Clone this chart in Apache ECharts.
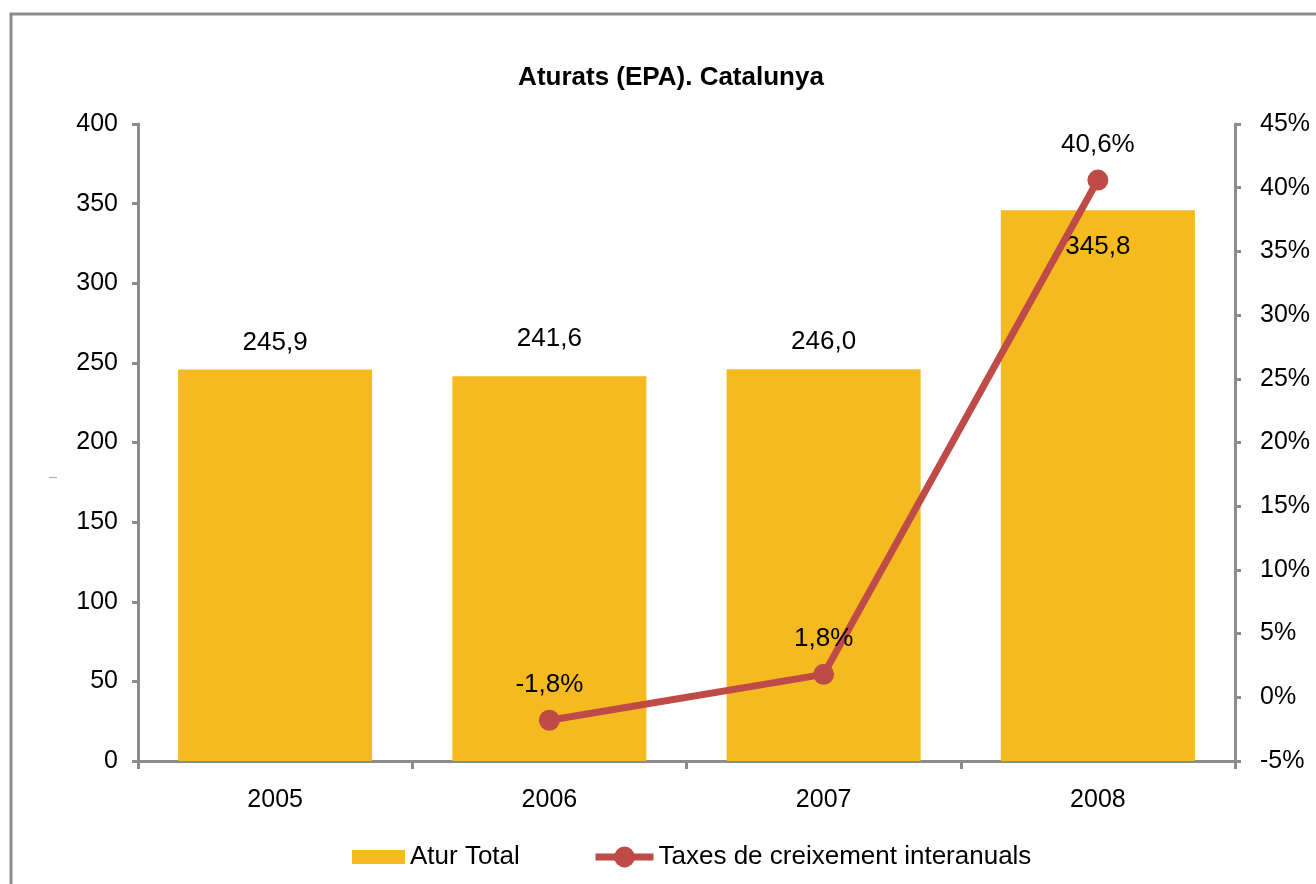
<!DOCTYPE html>
<html>
<head>
<meta charset="utf-8">
<script src="https://cdn.jsdelivr.net/npm/echarts@6/dist/echarts.min.js"></script>
<style>
  html, body { margin: 0; padding: 0; background: #fff; }
  #chart { width: 1316px; height: 884px; }
</style>
</head>
<body>
<div id="chart"></div>
<script>
const years = ["2005", "2006", "2007", "2008"];
const aturTotal = [245.9, 241.6, 246.0, 345.8];
const taxes = [null, -1.8, 1.8, 40.6];

const fmt = (v, d) => v.toFixed(d).replace(".", ",");
const font = "Liberation Sans, Arial, sans-serif";
const barColor = "#F5BA1F";
const lineColor = "#BE4B48";
const axisGray = "#8c8c8c";

const chart = echarts.init(document.getElementById("chart"));

chart.setOption({
    animation: false,
    textStyle: { fontFamily: font },
    title: {
        text: "Aturats (EPA). Catalunya",
        left: 671,
        top: 65,
        textAlign: "center",
        padding: 0,
        textStyle: { fontSize: 26, fontWeight: "bold", color: "#000", fontFamily: font }
    },
    graphic: [{
        type: "rect",
        shape: { x: 11, y: 14, width: 1400, height: 1000 },
        style: { fill: "none", stroke: axisGray, lineWidth: 3 },
        silent: true
    }, {
        type: "rect",
        shape: { x: 49, y: 477, width: 8, height: 1 },
        style: { fill: "#aaa" },
        silent: true
    }],
    grid: { left: 138, right: 81, top: 124, bottom: 123, outerBoundsMode: "none" },
    legend: [{
        left: 352,
        top: 844,
        padding: 0,
        itemWidth: 53,
        itemHeight: 14,
        textStyle: { fontSize: 26, color: "#000", fontFamily: font },
        data: [{ name: "Atur Total", icon: "rect" }]
    }, {
        left: 592,
        top: 844,
        padding: 0,
        itemWidth: 58,
        itemHeight: 26,
        lineStyle: { width: 7 },
        textStyle: { fontSize: 26, color: "#000", fontFamily: font },
        data: [{ name: "Taxes de creixement interanuals" }]
    }],
    xAxis: {
        type: "category",
        data: years,
        axisLine: { lineStyle: { color: axisGray, width: 3 } },
        axisTick: { show: true, length: 8, lineStyle: { color: axisGray, width: 3 } },
        axisLabel: { fontSize: 25, color: "#000", margin: 27 }
    },
    yAxis: [{
        type: "value",
        min: 0, max: 400, interval: 50,
        splitLine: { show: false },
        axisLine: { show: true, lineStyle: { color: axisGray, width: 3 } },
        axisTick: { show: true, length: 6, lineStyle: { color: axisGray, width: 3 } },
        axisLabel: { fontSize: 25, color: "#000", margin: 20 }
    }, {
        type: "value",
        min: -5, max: 45, interval: 5,
        splitLine: { show: false },
        axisLine: { show: true, lineStyle: { color: axisGray, width: 3 } },
        axisTick: { show: true, length: 6, lineStyle: { color: axisGray, width: 3 } },
        axisLabel: { fontSize: 25, color: "#000", margin: 25, formatter: v => v + "%" }
    }],
    series: [{
        name: "Atur Total",
        type: "bar",
        barWidth: 194,
        itemStyle: { color: barColor },
        label: {
            show: true, position: "top", distance: 14,
            fontSize: 26, color: "#000",
            formatter: p => fmt(p.value, 1)
        },
        data: aturTotal.map((v, i) => {
            if (i === 3) return { value: v, label: { position: "insideTop", distance: 24 } };
            if (i === 1) return { value: v, label: { distance: 24 } };
            return v;
        })
    }, {
        name: "Taxes de creixement interanuals",
        type: "line",
        yAxisIndex: 1,
        symbol: "circle",
        symbolSize: 21,
        lineStyle: { color: lineColor, width: 7 },
        itemStyle: { color: lineColor },
        label: {
            show: true, position: "top", distance: 12,
            fontSize: 26, color: "#000",
            formatter: p => fmt(p.value, 1) + "%"
        },
        data: taxes
    }]
});
</script>
</body>
</html>
